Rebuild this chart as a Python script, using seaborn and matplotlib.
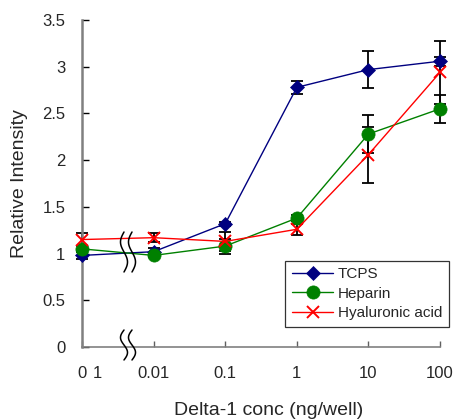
import numpy as np
import matplotlib
matplotlib.use("Agg")
import matplotlib.pyplot as plt
import matplotlib.transforms as mtransforms
import seaborn as sns

### data
conc_labels = ["0", "0.01", "0.1", "1", "10", "100"]
series_names = ["TCPS", "Heparin", "Hyaluronic acid"]

tcps = [0.98, 1.02, 1.32, 2.78, 2.97, 3.06]
tcps_err = [0.04, 0.04, 0.02, 0.07, 0.20, 0.05]

heparin = [1.05, 0.98, 1.08, 1.38, 2.28, 2.55]
heparin_err = [0.03, 0.02, 0.08, 0.03, 0.20, 0.15]

hyaluronic = [1.15, 1.17, 1.13, 1.26, 2.06, 2.94]
hyaluronic_err = [0.07, 0.05, 0.10, 0.06, 0.30, 0.34]

colors = ["#000080", "#008000", "#ff0000"]
markers = ["D", "o", "x"]
msizes = [7.5, 9.5, 8.5]

sns.set_style("ticks")
plt.rcParams["font.family"] = ["Liberation Sans", "DejaVu Sans"]

fig = plt.figure(figsize=(4.56, 4.19), dpi=100)
ax = fig.add_axes([0.180, 0.172, 0.785, 0.780])

pos = np.arange(len(conc_labels))
vals = [tcps, heparin, hyaluronic]
errs = [tcps_err, heparin_err, hyaluronic_err]

### error bars first (behind the markers)
for v, e in zip(vals, errs):
  ax.errorbar(pos, v, yerr=e, fmt="none", ecolor="black", elinewidth=1.3,
              capsize=4.5, capthick=1.3, zorder=2, clip_on=False)

for name, v, c, m, ms in zip(series_names, vals, colors, markers, msizes):
  sns.lineplot(x=pos, y=v, color=c, marker=m, markersize=ms, linewidth=1.0,
               markeredgecolor=c, markeredgewidth=1.4 if m == "x" else 0.5,
               label=name, ax=ax, zorder=3, clip_on=False)

ax.set_xlim(0, 5)
ax.set_ylim(0, 3.5)
ax.set_xticks(pos)
ax.set_xticklabels(conc_labels)
ax.set_yticks(np.arange(0, 3.51, 0.5))
ax.set_yticklabels(["%g" % t for t in np.arange(0, 3.51, 0.5)])

sns.despine(ax=ax)
ax.spines["left"].set_color("#808080")
ax.spines["left"].set_linewidth(1.8)
ax.spines["bottom"].set_color("#808080")
ax.spines["bottom"].set_linewidth(1.2)
ax.tick_params(axis="y", direction="in", length=5, width=1, color="black",
               labelsize=12, pad=12)
ax.tick_params(axis="x", direction="in", length=4, width=1, color="#606060",
               labelsize=12, pad=14)

# stray "1" next to the 0 tick label, same baseline as the tick labels
label_tr = ax.get_xaxis_transform() + mtransforms.ScaledTranslation(0, -14 / 72, fig.dpi_scale_trans)
ax.text(0.22, 0, "1", transform=label_tr, ha="center", va="top", fontsize=12)

ax.set_xlabel("Delta-1 conc (ng/well)", fontsize=14)
ax.set_ylabel("Relative Intensity", fontsize=14)
ax.xaxis.set_label_coords(0.522, -0.170)
ax.yaxis.set_label_coords(-0.150, 0.5)

### axis break marks (drawn in pixel space)
def wave(xc, yc, h):
  t = np.linspace(-1, 1, 60)
  y = yc + t * h / 2
  x = xc + 3.5 * np.sin(np.pi * t)
  return x, y

for yc, h in [(252, 40), (345, 30)]:
  for xc in [124, 132]:
    x, y = wave(xc, yc, h)
    ax.plot(x, 419 - y, color="black", lw=1.1, transform=mtransforms.IdentityTransform(),
            clip_on=False, zorder=5)

leg = ax.legend(loc="lower right", bbox_to_anchor=(1.025, 0.061), borderaxespad=0,
                fontsize=11, frameon=True, fancybox=False, edgecolor="black",
                handlelength=2.7, handletextpad=0.3, labelspacing=0.35,
                borderpad=0.45)
leg.get_frame().set_linewidth(0.9)

fig.savefig("out.png", dpi=100)
